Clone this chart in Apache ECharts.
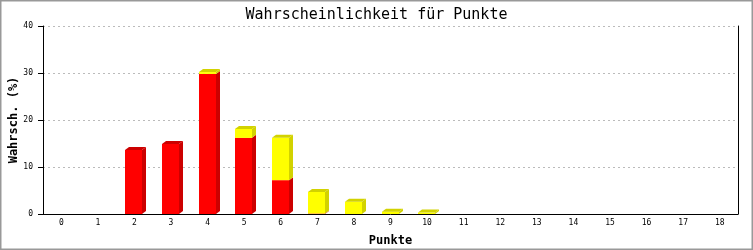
<!DOCTYPE html>
<html><head><meta charset="utf-8">
<script src="https://cdn.jsdelivr.net/npm/echarts@6/dist/echarts.min.js"></script>
<style>html,body{margin:0;padding:0;background:#fff}#c{width:753px;height:250px}</style>
</head><body><div id="c"></div>
<script>
var categories = ['0','1','2','3','4','5','6','7','8','9','10','11','12','13','14','15','16','17','18'];
var redValues = [0,0,13.6,14.9,29.8,16.2,7.2,0.1,0,0,0,0,0,0,0,0,0,0,0];
var yellowValues = [0,0,0,0,0.4,1.9,9.0,4.6,2.6,0.5,0.3,0,0,0,0,0,0,0,0];
var yTicks = [0,10,20,30,40];

var data = categories.map(function(c,i){ return [i, redValues[i], yellowValues[i]]; });
var FACE = 17, DX = 4, DY = 3;
function seg(x0, yb, yt, face, dark, withTop, topColor){
  var ch = [];
  if (yb - yt <= 0) return ch;
  ch.push({type:'rect', shape:{x:x0, y:yt, width:FACE, height:yb-yt}, style:{fill:face}});
  ch.push({type:'polygon', shape:{points:[[x0+FACE,yb],[x0+FACE+DX,yb-DY],[x0+FACE+DX,yt-DY],[x0+FACE,yt]]}, style:{fill:dark}});
  if (withTop) ch.push({type:'polygon', shape:{points:[[x0,yt],[x0+DX,yt-DY],[x0+FACE+DX,yt-DY],[x0+FACE,yt]]}, style:{fill:topColor}});
  return ch;
}
var chart = echarts.init(document.getElementById('c'), null, {renderer:'canvas'});
chart.setOption({
  backgroundColor:'#fff',
  animation:false,
  title:{text:'Wahrscheinlichkeit für Punkte', left:'center', top:3,
    textStyle:{fontFamily:'DejaVu Sans Mono', fontSize:15, fontWeight:'normal', color:'#000'}},
  graphic:[{type:'rect', shape:{x:0.5,y:0.5,width:752,height:249}, style:{fill:null, stroke:'#999', lineWidth:2}, silent:true, z:100}],
  grid:{left:43, right:15, top:26, bottom:36, containLabel:false, outerBoundsMode:'none'},
  xAxis:{type:'category', data:categories,
    name:'Punkte', nameLocation:'middle', nameGap:21, nameMoveOverlap:false,
    nameTextStyle:{fontFamily:'DejaVu Sans Mono', fontSize:12, fontWeight:'bold', color:'#000'},
    axisLine:{lineStyle:{color:'#000', width:1}}, axisTick:{show:false},
    axisLabel:{fontFamily:'DejaVu Sans Mono', fontSize:8, color:'#000', margin:5}},
  yAxis:[{type:'value', min:0, max:40, interval:10,
    name:'Wahrsch. (%)', nameLocation:'middle', nameGap:23, nameMoveOverlap:false,
    nameTextStyle:{fontFamily:'DejaVu Sans Mono', fontSize:12, fontWeight:'bold', color:'#000'},
    axisLine:{show:true, lineStyle:{color:'#000'}}, axisTick:{show:true, length:5, lineStyle:{color:'#000'}},
    axisLabel:{fontFamily:'DejaVu Sans Mono', fontSize:8, color:'#000', margin:10,
      formatter:function(v){ return yTicks.indexOf(v)>=0 ? String(v) : ''; }},
    splitLine:{show:true, lineStyle:{color:'#bbb', type:[2,3]}}},
    {type:'value', min:0, max:40, interval:10, position:'right',
    axisLine:{show:true, lineStyle:{color:'#000'}}, axisTick:{show:false}, axisLabel:{show:false}, splitLine:{show:false}}],
  series:[{type:'custom', data:data, encode:{x:0, y:[1,2]},
    renderItem:function(params, api){
      var i = api.value(0), r = api.value(1), y = api.value(2);
      var base = api.coord([i,0]);
      var rt = api.coord([i,r]);
      var tt = api.coord([i,r+y]);
      var x0 = Math.round(base[0] - 9);
      var ch = [];
      ch = ch.concat(seg(x0, base[1], rt[1], '#ff0000', '#cc0000', y<=0, '#cc0000'));
      ch = ch.concat(seg(x0, rt[1], tt[1], '#ffff00', '#d2d200', true, '#d2d200'));
      return {type:'group', children:ch};
    }}]
});
</script></body></html>
